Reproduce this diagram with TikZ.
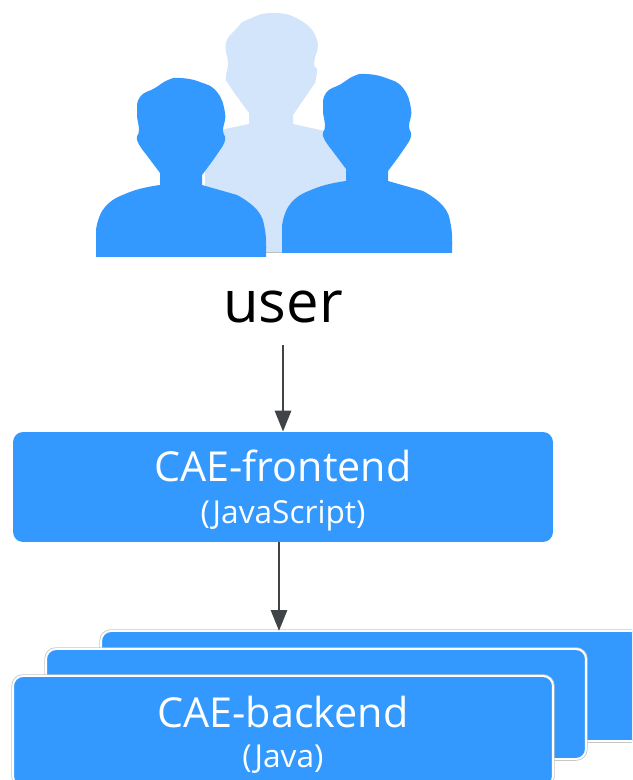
\documentclass[tikz,border=0pt]{standalone}
\usepackage{fontspec}
\setmainfont{Open Sans}
\definecolor{userblue}{HTML}{3399FF}
\definecolor{userpale}{HTML}{D2E5FA}
\definecolor{arrowgray}{HTML}{404448}
\usetikzlibrary{arrows.meta}
\tikzset{
    boxnode/.style={fill=userblue,text=white,rounded corners=0.2cm,align=center,minimum width=10.8cm,minimum height=2.2cm,inner sep=0pt},
    stacknode/.style={boxnode,draw=white,line width=1.1pt,preaction={draw=gray!45,line width=2pt}},
    flowarrow/.style={draw=arrowgray,line width=1.7pt,-{Triangle[length=0.42cm,width=0.32cm]}},
}
\newcommand{\boxlabel}[2]{\rule{0pt}{22pt}\fontsize{23.5}{27}\selectfont #1\\[9pt]\fontsize{18}{22}\selectfont #2}
\newcommand{\personpath}{
    (96,257) -- plot[smooth,tension=0.8] coordinates {(96,230) (105,207) (130,192) (160,185)}
    -- (160,173) -- plot[smooth,tension=0.8] coordinates {(145,153) (137,140) (139,130) (137,113) (140,97) (155,88) (168,80) (180,78) (200,82) (217,92) (225,113) (223,130) (225,140) (218,153) (202,175)}
    -- (202,185) -- plot[smooth,tension=0.8] coordinates {(237,195) (257,210) (265,230) (266,257)} -- cycle
}
\begin{document}
\begin{tikzpicture}[x=0.02cm,y=-0.02cm]
    \useasboundingbox (0,0) rectangle (632,780);
    \clip (0,0) rectangle (632,780);

    % people
    \fill[userpale] (249,124) -- (225,129) -- (215,135) -- (205,170) -- (205,252) -- (340,252) -- (350,180) -- (335,140) -- (325,131) -- (293,124)
    -- (293,115) -- plot[smooth,tension=0.8] coordinates {(315,83) (317,70) (314,63) (317,40) (300,20) (272,13) (247,20) (237,28) (226,43) (228,63) (226,77) (229,85) (249,113)} -- cycle;
    \draw[gray!50,line width=0.6pt] (265,252.5) -- (283,252.5);
    \fill[userblue] \personpath;
    \fill[userblue,shift={(186,-4)}] \personpath;

    \node[text=black,font=\fontsize{33}{33}\selectfont] (user) at (283,307) {user};

    \node[boxnode] (frontend) at (283,487) {\boxlabel{CAE-frontend}{(JavaScript)}};

    \node[stacknode] (backendC) at (371,686) {};
    \node[stacknode] (backendB) at (316,704) {};
    \node[stacknode] (backendA) at (283,731) {\boxlabel{CAE-backend}{(Java)}};

    \coordinate (backendIn) at (279,631);
    \draw[flowarrow] (user.south -| frontend.north) ++(0,16) -- (frontend.north);
    \draw[flowarrow] (frontend.south -| backendIn) -- (backendIn);
\end{tikzpicture}
\end{document}
